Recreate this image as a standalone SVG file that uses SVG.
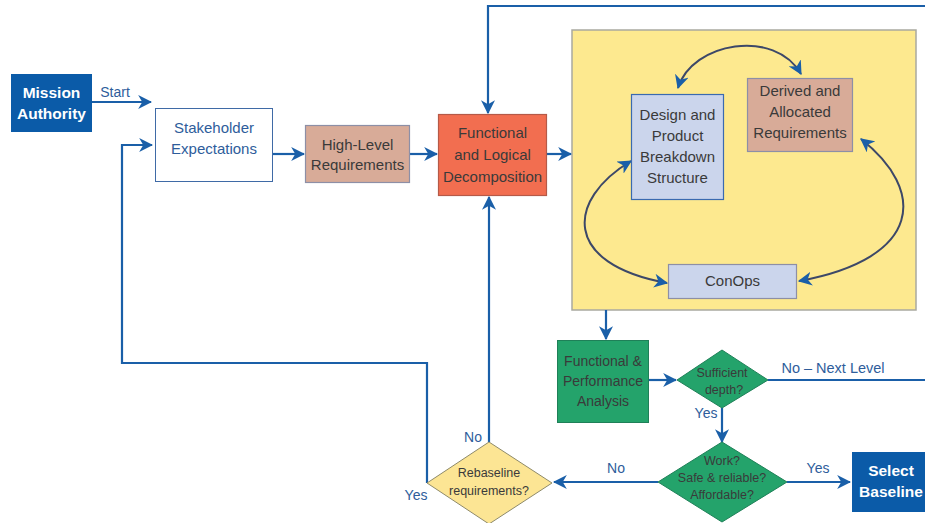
<svg xmlns="http://www.w3.org/2000/svg" width="925" height="523" viewBox="0 0 925 523">
<style>
text{font-family:"Liberation Sans",Arial,sans-serif;font-size:15px;text-anchor:middle}
.dk{fill:#3a3a3a}
.wh{fill:#ffffff;font-weight:bold;font-size:15.5px}
.bl{fill:#2e5d9b}
.sm{font-size:12.5px}
.conn{fill:none;stroke:#1a5fa8;stroke-width:2.2}
.curve{fill:none;stroke:#3d4868;stroke-width:2}
</style>
<defs>
<marker id="ah" viewBox="0 0 12 12" refX="11" refY="6" markerWidth="14" markerHeight="14" markerUnits="userSpaceOnUse" orient="auto-start-reverse">
<path d="M0,0 L12,6 L0,12 L3.5,6 z" fill="#1a5fa8"/>
</marker>
</defs>
<rect width="925" height="523" fill="#ffffff"/>

<g id="workspace">
<rect x="572" y="30" width="344" height="280" fill="#fde98f" stroke="#a9a9a0" stroke-width="1.5"/>
</g>

<g id="connectors">
<path class="conn" d="M92,102 H151" marker-end="url(#ah)"/>
<path class="conn" d="M273,154 H304" marker-end="url(#ah)"/>
<path class="conn" d="M410,154 H437" marker-end="url(#ah)"/>
<path class="conn" d="M547,154 H571" marker-end="url(#ah)"/>
<path class="conn" d="M925,6 H488 V113" marker-end="url(#ah)"/>
<path class="conn" d="M606,310 V339" marker-end="url(#ah)"/>
<path class="conn" d="M648,380 H676" marker-end="url(#ah)"/>
<path class="conn" d="M768,380 H925"/>
<path class="conn" d="M722,408 V442" marker-end="url(#ah)"/>
<path class="conn" d="M787,482 H850" marker-end="url(#ah)"/>
<path class="conn" d="M658,482 H554" marker-end="url(#ah)"/>
<path class="conn" d="M489,442 V197" marker-end="url(#ah)"/>
<path class="conn" d="M427,483 V363 H122 V145 H152" marker-end="url(#ah)"/>
<path class="curve" d="M678,88 C692,42 775,28 801,74" marker-start="url(#ah)" marker-end="url(#ah)"/>
<path class="curve" d="M631,161 C566,200 562,264 667,283" marker-start="url(#ah)" marker-end="url(#ah)"/>
<path class="curve" d="M861,139 C926,190 924,258 799,281" marker-start="url(#ah)" marker-end="url(#ah)"/>
</g>

<g id="labels">
<text x="115" y="97" class="bl" style="font-size:14px">Start</text>
<text x="833" y="373" class="bl" style="font-size:14.5px">No – Next Level</text>
<text x="706" y="418" class="bl" style="font-size:14px">Yes</text>
<text x="818" y="473" class="bl" style="font-size:14px">Yes</text>
<text x="616" y="473" class="bl" style="font-size:14px">No</text>
<text x="473" y="442" class="bl" style="font-size:14px">No</text>
<text x="416" y="500" class="bl" style="font-size:14px">Yes</text>
</g>

<g id="mission-authority">
<rect x="11" y="74" width="81" height="58" fill="#0b5ba8"/>
<text x="51.5" y="98" class="wh">Mission</text>
<text x="51.5" y="119" class="wh">Authority</text>
</g>

<g id="stakeholder-expectations">
<rect x="155.5" y="108.5" width="117" height="73" fill="#ffffff" stroke="#3f6aa6" stroke-width="1"/>
<text x="214" y="133" class="bl">Stakeholder</text>
<text x="214" y="154" class="bl">Expectations</text>
</g>

<g id="high-level-requirements">
<rect x="305.5" y="125.5" width="104" height="57" fill="#d8ab98" stroke="#8d8fa6" stroke-width="1.2"/>
<text x="357.5" y="150" class="dk">High-Level</text>
<text x="357.5" y="170" class="dk">Requirements</text>
</g>

<g id="functional-logical-decomposition">
<rect x="438.5" y="114.5" width="108" height="81" fill="#f26e50" stroke="#b55a48" stroke-width="1.2"/>
<text x="492.5" y="138" class="dk">Functional</text>
<text x="492.5" y="160" class="dk">and Logical</text>
<text x="492.5" y="182" class="dk">Decomposition</text>
</g>

<g id="design-product-breakdown">
<rect x="631.5" y="94.5" width="92" height="105" fill="#cbd5ec" stroke="#3a6ab0" stroke-width="1.2"/>
<text x="677.5" y="120" class="dk">Design and</text>
<text x="677.5" y="141" class="dk">Product</text>
<text x="677.5" y="162" class="dk">Breakdown</text>
<text x="677.5" y="183" class="dk">Structure</text>
</g>

<g id="derived-allocated-requirements">
<rect x="747.5" y="78.5" width="105" height="73" fill="#d8ab98" stroke="#8d8fa6" stroke-width="1.2"/>
<text x="800" y="96" class="dk">Derived and</text>
<text x="800" y="117" class="dk">Allocated</text>
<text x="800" y="138" class="dk">Requirements</text>
</g>

<g id="conops">
<rect x="668.5" y="264.5" width="128" height="34" fill="#cbd5ec" stroke="#8d8fa6" stroke-width="1.2"/>
<text x="732.5" y="286" class="dk">ConOps</text>
</g>

<g id="functional-performance-analysis">
<rect x="557.5" y="340.5" width="91" height="82" fill="#24a36b" stroke="#1f8058" stroke-width="1"/>
<text x="603" y="366" class="dk" style="font-size:14px">Functional &amp;</text>
<text x="603" y="386" class="dk" style="font-size:14px">Performance</text>
<text x="603" y="406" class="dk" style="font-size:14px">Analysis</text>
</g>

<g id="sufficient-depth">
<polygon points="722,350 768,380 722,408 677,380" fill="#24a36b" stroke="#1f8058" stroke-width="1"/>
<text x="722" y="377" class="dk sm">Sufficient</text>
<text x="724" y="394" class="dk sm">depth?</text>
</g>

<g id="work-safe-affordable">
<polygon points="722,442 787,482 722,522 658,482" fill="#24a36b" stroke="#1f8058" stroke-width="1"/>
<text x="722" y="465" class="dk sm">Work?</text>
<text x="722" y="482" class="dk sm">Safe &amp; reliable?</text>
<text x="722" y="499" class="dk sm">Affordable?</text>
</g>

<g id="rebaseline-requirements">
<polygon points="489,442 552,483 489,524 427,483" fill="#fce594" stroke="#8e8a6a" stroke-width="1"/>
<text x="489" y="477" class="dk sm">Rebaseline</text>
<text x="489" y="495" class="dk sm">requirements?</text>
</g>

<g id="select-baseline">
<rect x="852" y="452" width="73" height="60" fill="#0b5ba8"/>
<text x="891" y="476" class="wh">Select</text>
<text x="891" y="497" class="wh">Baseline</text>
</g>
</svg>
